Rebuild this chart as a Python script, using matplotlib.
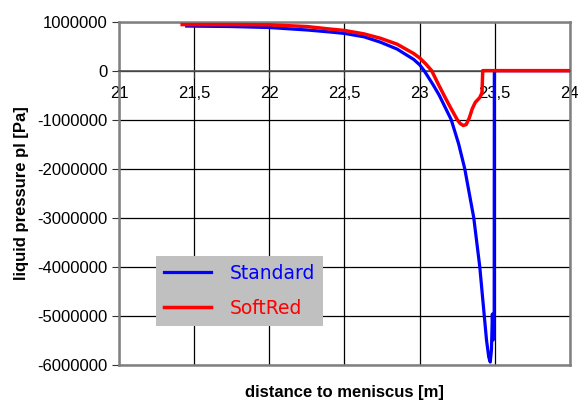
import matplotlib
matplotlib.use("Agg")
import matplotlib.pyplot as plt
from matplotlib.ticker import MultipleLocator, FuncFormatter

# Standard run (blue)
x_std = [21.45, 21.75, 22.0, 22.25, 22.4, 22.5, 22.63, 22.74, 22.85, 22.96,
         23.0, 23.03, 23.09, 23.13, 23.21, 23.26, 23.30, 23.33, 23.36, 23.38,
         23.40, 23.415, 23.43, 23.445, 23.46, 23.47, 23.478, 23.484, 23.489,
         23.496, 23.497, 24.0]
p_std = [0.91e6, 0.90e6, 0.88e6, 0.83e6, 0.79e6, 0.76e6, 0.69e6, 0.58e6,
         0.44e6, 0.23e6, 0.12e6, 0.0, -0.29e6, -0.5e6, -1.0e6, -1.5e6, -2.0e6,
         -2.5e6, -3.0e6, -3.5e6, -4.0e6, -4.5e6, -5.0e6, -5.5e6, -5.85e6,
         -5.95e6, -5.7e6, -4.97e6, -5.5e6, -5.45e6, 0.0, 0.0]

# SoftRed run (red)
x_soft = [21.42, 21.75, 22.0, 22.25, 22.4, 22.5, 22.63, 22.74, 22.85, 22.96,
          23.0, 23.04, 23.08, 23.12, 23.17, 23.21, 23.25, 23.27, 23.29, 23.31,
          23.33, 23.35, 23.37, 23.40, 23.415, 23.42, 24.0]
p_soft = [0.94e6, 0.94e6, 0.935e6, 0.90e6, 0.85e6, 0.82e6, 0.75e6, 0.66e6,
          0.54e6, 0.35e6, 0.26e6, 0.14e6, 0.0, -0.25e6, -0.55e6, -0.78e6,
          -1.0e6, -1.08e6, -1.12e6, -1.1e6, -0.97e6, -0.78e6, -0.65e6,
          -0.55e6, -0.45e6, 0.0, 0.0]

xticks = [21, 21.5, 22, 22.5, 23, 23.5, 24]

plt.rcParams['font.family'] = ['Liberation Sans', 'DejaVu Sans']

fig = plt.figure(figsize=(5.78, 4.01), dpi=100)
ax = fig.add_axes([0.206, 0.091, 0.78, 0.855])

ax.plot(x_std, p_std, color='#0000ff', lw=2.3, label='Standard', zorder=3)
ax.plot(x_soft, p_soft, color='#ff0000', lw=2.5, label='SoftRed', zorder=4)

ax.set_xlim(21, 24)
ax.set_ylim(-6e6, 1e6)
ax.set_xticks(xticks)
ax.xaxis.set_major_formatter(FuncFormatter(lambda v, p: f"{v:g}".replace('.', ',')))
ax.yaxis.set_major_locator(MultipleLocator(1e6))
ax.yaxis.set_major_formatter(FuncFormatter(lambda v, p: f"{int(round(v))}"))

ax.grid(True, color='black', lw=0.9)
ax.set_axisbelow(True)

# x axis crosses at zero, frame in grey
for s in ['top', 'left', 'right']:
    ax.spines[s].set_color('#808080')
    ax.spines[s].set_linewidth(1.8)
ax.spines['bottom'].set_position(('data', 0))
ax.spines['bottom'].set_color('#555555')
ax.spines['bottom'].set_linewidth(1.2)
ax.plot([0, 1], [0, 0], transform=ax.transAxes, color='#808080', lw=1.8,
        clip_on=False, zorder=5)

ax.tick_params(axis='x', direction='out', length=5, pad=6, labelsize=12,
               color='#333333')
ax.tick_params(axis='y', direction='out', length=5, pad=3, labelsize=12,
               color='#333333')

ax.set_xlabel('distance to meniscus [m]', fontsize=12, fontweight='bold',
              labelpad=0)
ax.xaxis.set_label_coords(0.5, -0.06)
ax.set_ylabel('liquid pressure pl [Pa]', fontsize=12, fontweight='bold')
ax.yaxis.set_label_coords(-0.2, 0.5)

leg = ax.legend(loc='lower left', bbox_to_anchor=(0.082, 0.113),
                frameon=True, fancybox=False, facecolor='#c0c0c0',
                edgecolor='none', framealpha=1, labelcolor='linecolor',
                prop={'family': 'DejaVu Sans', 'size': 13.5},
                handlelength=2.5, handletextpad=1.0, labelspacing=0.87,
                borderpad=0.42, borderaxespad=0)
leg.set_zorder(6)

fig.savefig('out.png', dpi=100)
